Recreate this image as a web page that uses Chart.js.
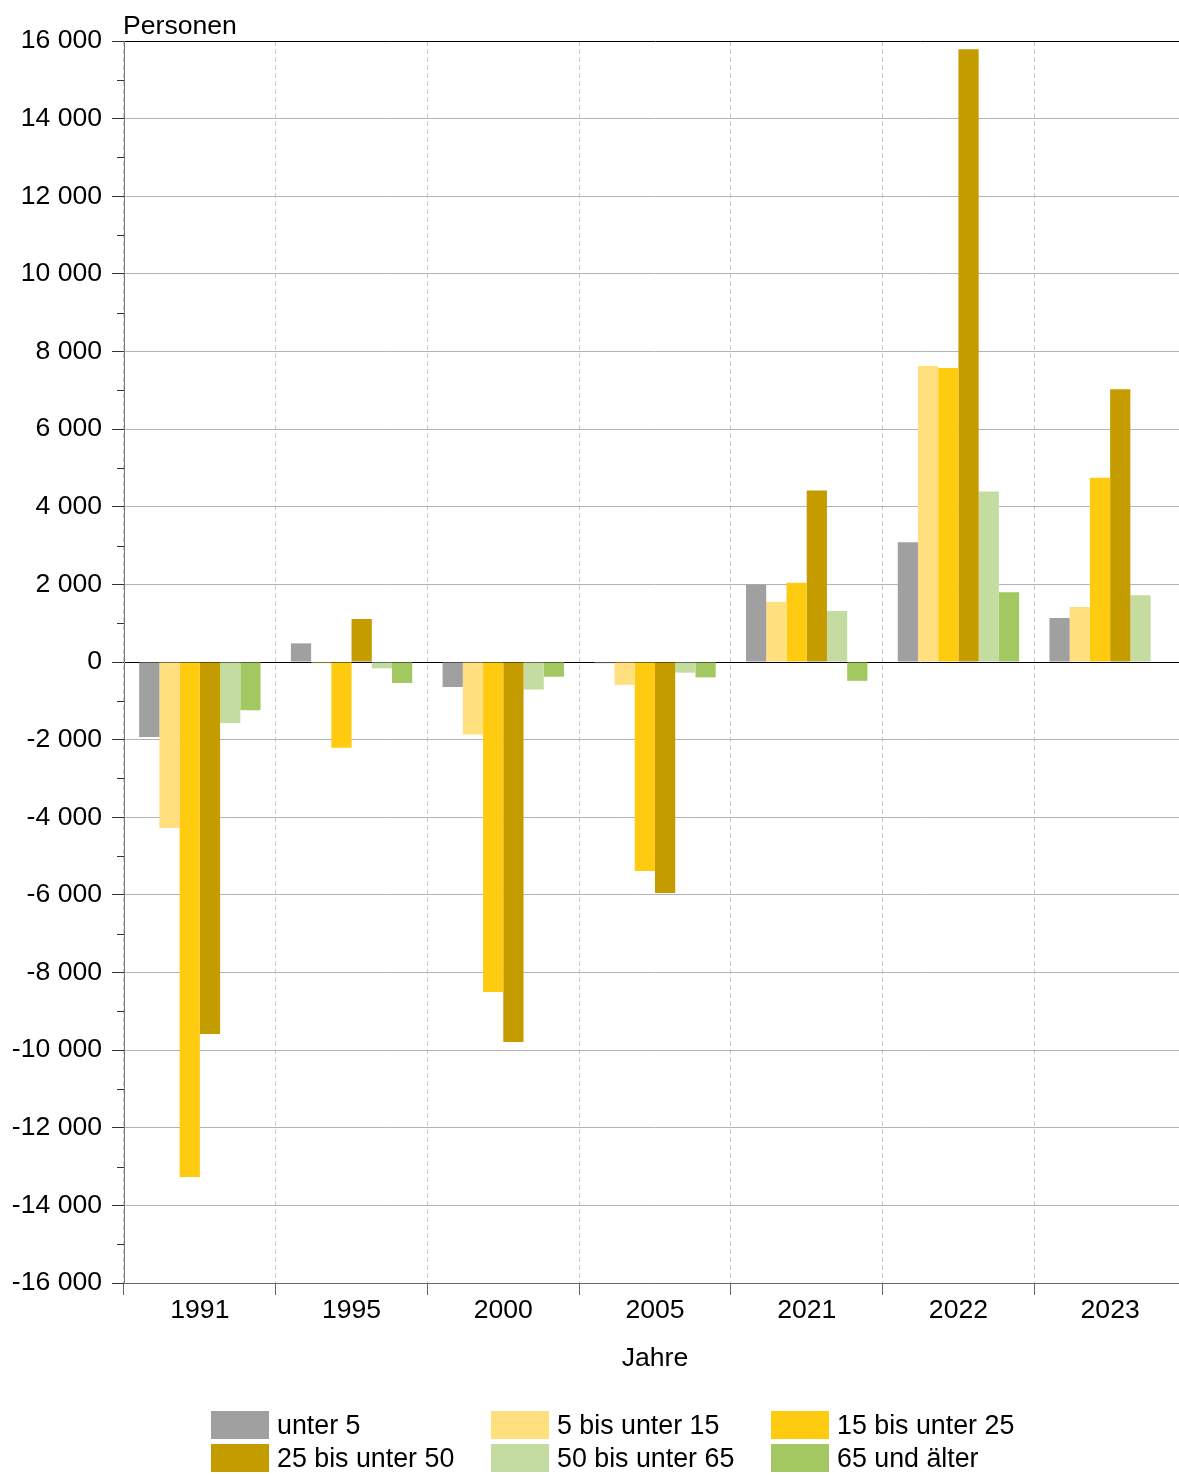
<!DOCTYPE html>
<html><head><meta charset="utf-8">
<script src="https://cdn.jsdelivr.net/npm/chart.js@4.4.0/dist/chart.umd.min.js"></script>
<style>
html,body{margin:0;padding:0;background:#fff;overflow:hidden;}
#wrap{position:relative;width:1179px;height:1475px;overflow:hidden;}
#legend{position:absolute;left:0;top:1411px;width:1179px;font-family:"Liberation Sans",Arial,sans-serif;font-size:26.8px;color:#000;}
.li{position:absolute;height:28px;display:flex;align-items:center;white-space:nowrap;}
.li span.b{display:inline-block;width:58px;height:28px;margin-right:8px;}
</style></head>
<body><div id="wrap"><canvas id="c" width="1186" height="1475"></canvas><div id="legend"></div></div>
<script>
const categories = ["1991","1995","2000","2005","2021","2022","2023"];
const seriesNames = ["unter 5","5 bis unter 15","15 bis unter 25","25 bis unter 50","50 bis unter 65","65 und älter"];
const unter5     = [-1930,  480,  -645,   -30, 2000,  3085, 1135];
const bis15      = [-4280,  -30, -1865,  -590, 1550,  7625, 1415];
const bis25      = [-13270,-2210,-8500, -5385, 2040,  7575, 4745];
const bis50      = [-9585, 1110, -9790, -5950, 4420, 15790, 7030];
const bis65      = [-1570, -165,  -710,  -275, 1315,  4390, 1720];
const ab65       = [-1240, -540,  -380,  -395, -485,  1795,    0];
const colors = ["#a0a0a0","#ffdf7e","#ffcb10","#c49c00","#c5dca0","#a3c862"];
const yMin = -16000, yMax = 16000, yStep = 2000;
const yLabel = "Personen", xLabel = "Jahre";

const seriesValues = [unter5, bis15, bis25, bis50, bis65, ab65];
const font = "Liberation Sans";
const fs = 26.6;
const fmt = v => { const s = Math.abs(v).toString().replace(/\B(?=(\d{3})+(?!\d))/g, " "); return (v < 0 ? "-" : "") + s; };

const extras = {
  id: "extras",
  afterDraw(chart) {
    const ctx = chart.ctx, y = chart.scales.y, a = chart.chartArea;
    ctx.save();
    ctx.strokeStyle = "#333"; ctx.lineWidth = 1;
    for (let v = yMin + yStep/2; v < yMax; v += yStep) {
      const py = Math.round(y.getPixelForValue(v)) + 0.5;
      ctx.beginPath(); ctx.moveTo(a.left - 7, py); ctx.lineTo(a.left, py); ctx.stroke();
    }
    ctx.fillStyle = "#000"; ctx.font = fs + "px " + font; ctx.textBaseline = "alphabetic"; ctx.textAlign = "left";
    ctx.fillText(yLabel, a.left - 1, a.top - 7);
    ctx.restore();
  }
};

new Chart(document.getElementById("c"), {
  type: "bar",
  data: {
    labels: categories,
    datasets: seriesNames.map((n, i) => ({ label: n, data: seriesValues[i], backgroundColor: colors[i], borderWidth: 0 }))
  },
  options: {
    responsive: false, animation: false,
    layout: { padding: { top: 41, right: 0, bottom: 96, left: 0 } },
    datasets: { bar: { categoryPercentage: 0.8, barPercentage: 1.0 } },
    plugins: { legend: { display: false }, tooltip: { enabled: false } },
    scales: {
      x: {
        offset: true,
        grid: { offset: true, color: "#cccccc", lineWidth: 1, tickColor: "#666", tickLength: 12, tickBorderDash: [] },
        border: { display: true, color: "#666", dash: [5, 3] },
        ticks: { color: "#000", font: { family: font, size: fs }, padding: 0, maxRotation: 0 },
        title: { display: true, text: xLabel, color: "#000", font: { family: font, size: fs }, padding: { top: 18, bottom: 4 } },
        afterFit(s) { s.height = 96; }
      },
      y: {
        min: yMin, max: yMax,
        ticks: { stepSize: yStep, color: "#000", font: { family: font, size: fs }, padding: 10, callback: v => fmt(v) },
        grid: {
          color: c => { const v = c.tick ? c.tick.value : null; if (v === 0 || v === yMax) return "#000"; if (v === yMin) return "#666"; return "#b4b4b4"; },
          lineWidth: 1, tickColor: "#333", tickLength: 12
        },
        border: { color: "#777" },
        afterFit(s) { s.width = 124; }
      }
    }
  },
  plugins: [extras]
});

const lg = document.getElementById("legend");
const cols = [211, 491, 771];
seriesNames.forEach((n, i) => {
  const d = document.createElement("div");
  d.className = "li";
  d.style.left = cols[i % 3] + "px";
  d.style.top = (Math.floor(i / 3) * 33) + "px";
  d.innerHTML = '<span class="b" style="background:' + colors[i] + '"></span><span>' + n + '</span>';
  lg.appendChild(d);
});
</script></body></html>
